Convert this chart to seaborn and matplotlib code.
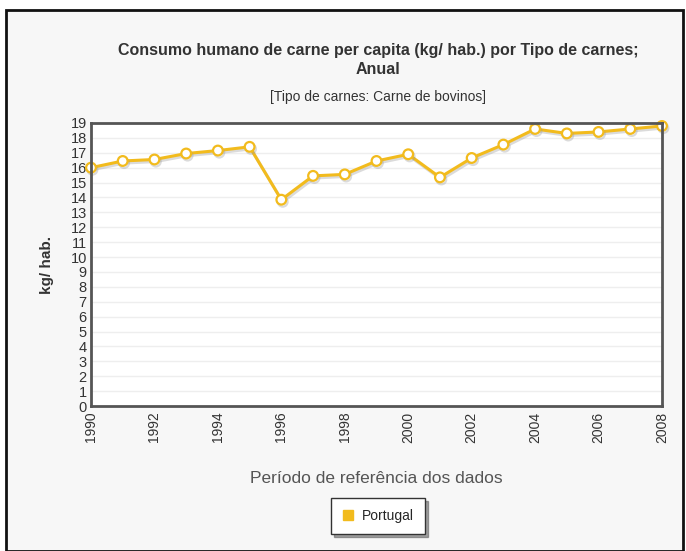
import matplotlib
matplotlib.use('Agg')
import matplotlib.pyplot as plt
import matplotlib.patheffects as pe
from matplotlib.lines import Line2D
from matplotlib.patches import Rectangle
import pandas as pd
import seaborn as sns

# Data
years = list(range(1990, 2009))
consumo = [16.0, 16.45, 16.55, 16.95, 17.15, 17.4, 13.85, 15.45, 15.55, 16.45,
           16.9, 15.35, 16.65, 17.55, 18.6, 18.3, 18.4, 18.6, 18.8]
xticks = list(range(1990, 2009, 2))
yticks = list(range(0, 20))

title = 'Consumo humano de carne per capita (kg/ hab.) por Tipo de carnes;\nAnual'
subtitle = '[Tipo de carnes: Carne de bovinos]'
series_name = 'Portugal'

sns.set_style('white')
plt.rcParams['font.family'] = ['Liberation Sans', 'DejaVu Sans']

line_color = '#f2bb1d'
axis_color = '#555555'

df = pd.DataFrame({'Ano': years, 'kg': consumo})

fig = plt.figure(figsize=(6.86, 5.51), dpi=100)
fig.patch.set_facecolor('white')

# outer framed panel
panel = Rectangle((6 / 686, 0), 677 / 686, 1 - 10 / 551, transform=fig.transFigure,
                  facecolor='#f7f7f7', edgecolor='#111111', linewidth=2, zorder=-10)
fig.patches.append(panel)

ax = fig.add_axes([91 / 686, 1 - 406 / 551, 571 / 686, 283 / 551])
ax.set_facecolor('white')

sns.lineplot(data=df, x='Ano', y='kg', ax=ax, color=line_color, linewidth=2.2,
             marker='o', markersize=7, markerfacecolor='white',
             markeredgecolor=line_color, markeredgewidth=1.6, clip_on=False,
             path_effects=[pe.SimpleLineShadow(offset=(1, -1.5), shadow_color='#999999', alpha=0.35),
                           pe.Normal()])

ax.set_xlim(1990, 2008)
ax.set_ylim(0, 19)
ax.set_xticks(xticks)
ax.set_xticklabels([str(x) for x in xticks], rotation=90, fontsize=10, color='#333333')
ax.set_yticks(yticks)
ax.set_yticklabels([str(y) for y in yticks], fontsize=10.5, color='#333333')
ax.tick_params(axis='x', length=0, pad=4)
ax.tick_params(axis='y', length=0, pad=3)
ax.yaxis.grid(True, color='#eeeeee', linewidth=1)
ax.xaxis.grid(False)
for s in ax.spines.values():
    s.set_color(axis_color)
    s.set_linewidth(2)

ax.set_xlabel('Período de referência dos dados', fontsize=12.5, color='#555555', labelpad=20)
ax.set_ylabel('kg/ hab.', fontsize=11, fontweight='bold', color='#333333', labelpad=12)

fig.text(378 / 686, 1 - 60 / 551, title, ha='center', va='center', fontsize=11.5,
         fontweight='bold', color='#333333', linespacing=1.4)
fig.text(378 / 686, 1 - 97 / 551, subtitle, ha='center', va='center', fontsize=10, color='#333333')

handle = Line2D([], [], color=line_color, marker='s', linestyle='none', markersize=7)
leg = fig.legend([handle], [series_name], loc='center', bbox_to_anchor=(378 / 686, 1 - 516 / 551),
                 frameon=True, fontsize=10, handlelength=0.8, handletextpad=0.6,
                 fancybox=False, shadow=True, borderpad=0.8)
leg.get_frame().set_edgecolor('#333333')
leg.get_frame().set_facecolor('white')
leg.get_frame().set_linewidth(1)

fig.savefig('out.png', dpi=100)
